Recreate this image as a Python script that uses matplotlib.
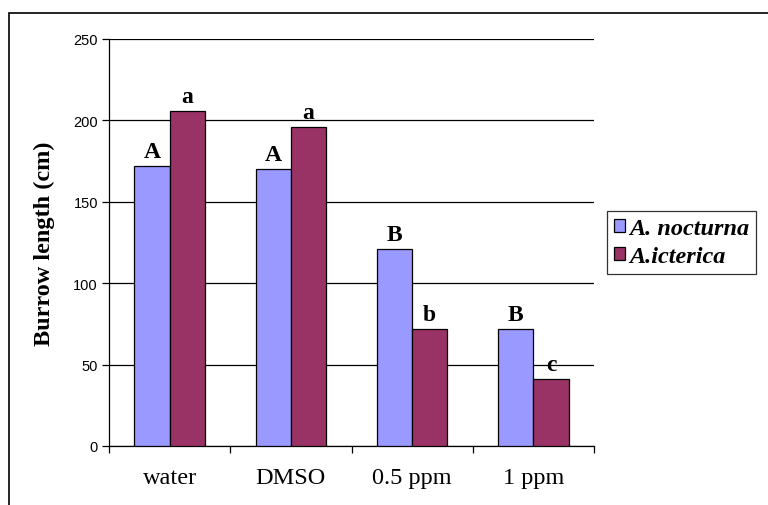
import numpy as np
import matplotlib
matplotlib.use("Agg")
import matplotlib.pyplot as plt
from matplotlib.patches import Rectangle

# data
categories = ["water", "DMSO", "0.5 ppm", "1 ppm"]
nocturna = [172, 170, 121, 72]
icterica = [206, 196, 72, 41]
nocturna_letters = ["A", "A", "B", "B"]
icterica_letters = ["a", "a", "b", "c"]
yticks = [0, 50, 100, 150, 200, 250]

serif = "Liberation Serif"
sans = "Liberation Sans"
c_noc = "#9999FF"
c_ict = "#993366"

fig = plt.figure(figsize=(7.68, 5.06), dpi=100)
ax = fig.add_axes([109 / 768, 1 - 447 / 506, (594 - 109) / 768, (447 - 40) / 506])

# outer chart-area border (only top and left edges are inside the picture)
fig.patches.append(Rectangle((9 / 768, -0.1), 1.2, 1 - 14 / 506 + 0.1,
                             transform=fig.transFigure, fill=False,
                             edgecolor="black", linewidth=1.2, zorder=0))

x = np.arange(len(categories))
w = 0.29
ax.bar(x - w / 2, nocturna, width=w, color=c_noc, edgecolor="black",
       linewidth=0.9, label="A. nocturna", zorder=3)
ax.bar(x + w / 2, icterica, width=w, color=c_ict, edgecolor="black",
       linewidth=0.9, label="A.icterica", zorder=3)

for xi, v, t in zip(x - w / 2, nocturna, nocturna_letters):
    ax.text(xi, v + 2.5, t, ha="center", va="bottom", family=serif,
            fontweight="bold", fontsize=17)
for xi, v, t in zip(x + w / 2, icterica, icterica_letters):
    ax.text(xi, v + 2.5, t, ha="center", va="bottom", family=serif,
            fontweight="bold", fontsize=17)

ax.set_xlim(-0.5, len(categories) - 0.5)
ax.set_ylim(0, 250)
ax.set_yticks(yticks)
ax.set_yticklabels([str(v) for v in yticks], family=sans, fontsize=10.5)
ax.yaxis.grid(True, color="black", linewidth=0.9, zorder=0)
ax.set_axisbelow(True)

ax.set_xticks(np.arange(-0.5, len(categories), 1.0))
ax.set_xticklabels([])
ax.set_xticks(x, minor=True)
ax.set_xticklabels(categories, minor=True, family=serif, fontsize=17.5)
ax.tick_params(axis="x", which="minor", length=0, pad=15)
ax.tick_params(axis="x", which="major", length=5, width=0.9, direction="out")
ax.tick_params(axis="y", length=5, width=0.9, direction="out", pad=3)

for s in ["top", "right"]:
    ax.spines[s].set_visible(False)
for s in ["left", "bottom"]:
    ax.spines[s].set_linewidth(0.9)

ax.set_ylabel("Burrow length (cm)", family=serif, fontweight="bold",
              fontsize=17.5, labelpad=13)

leg = ax.legend(loc="center left", bbox_to_anchor=(1.027, 0.5),
                prop={"family": serif, "weight": "bold", "style": "italic", "size": 17.5},
                frameon=True, fancybox=False, edgecolor="black",
                handlelength=0.45, handleheight=0.45, handletextpad=0.15,
                borderpad=0.3, labelspacing=0.3, borderaxespad=0)
leg.get_frame().set_linewidth(0.9)

fig.savefig("out.png", dpi=100, facecolor="white")
